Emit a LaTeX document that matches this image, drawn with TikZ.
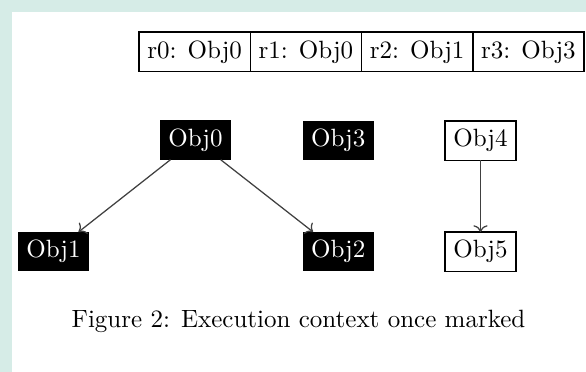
\documentclass[tikz,border=0pt]{standalone}
\usetikzlibrary{arrows.meta}
\definecolor{mint}{RGB}{214,236,231}
\begin{document}
\begin{tikzpicture}[x=0.4pt,y=-0.4pt,
  blk/.style={fill=black,text=white,inner sep=3.33pt,outer sep=0pt},
  wht/.style={draw=black,line width=0.6pt,fill=white,inner sep=3.33pt,outer sep=0pt},
  cell/.style={draw=black,line width=0.6pt,outer sep=0pt,inner sep=0pt,
    minimum width=44.5pt,minimum height=15.8pt,anchor=west},
  arr/.style={->,line width=0.5pt,draw=black!75}]
\useasboundingbox (0,0) rectangle (586,372);
\fill[mint] (0,0) rectangle (586,372);
\fill[white] (11.7,12.5) rectangle (586,372);
% register table
\node[cell] (r0) at (139,51.8) {r0: Obj0};
\node[cell] (r1) at (r0.east) {r1: Obj0};
\node[cell] (r2) at (r1.east) {r2: Obj1};
\node[cell] (r3) at (r2.east) {r3: Obj3};
% objects
\node[blk] (o0) at (195.5,140) {Obj0};
\node[blk] (o3) at (338.3,140.5) {Obj3};
\node[blk] (o1) at (53.5,251.7) {Obj1};
\node[blk] (o2) at (338.3,251.7) {Obj2};
\node[wht] (o4) at (480.5,140.7) {Obj4};
\node[wht] (o5) at (480.5,251.7) {Obj5};
\draw[arr] (o0) -- (o1);
\draw[arr] (o0) -- (o2);
\draw[arr] (o4) -- (o5);
% caption
\node[anchor=base,inner sep=0pt] (cap) at (298.5,327) {Figure 2: Execution context once marked};
\end{tikzpicture}
\end{document}
